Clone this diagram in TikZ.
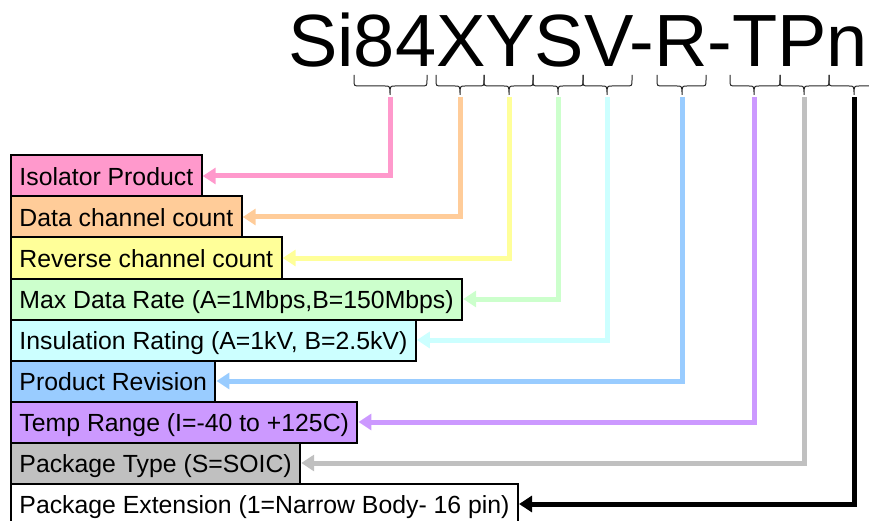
\documentclass[tikz,border=0pt]{standalone}
\usepackage{fontspec}
\setmainfont{Liberation Sans}
\usetikzlibrary{arrows.meta}
\definecolor{pinkc}{HTML}{FF99CC}
\definecolor{orangec}{HTML}{FFCC99}
\definecolor{yellowc}{HTML}{FFFF99}
\definecolor{greenc}{HTML}{CCFFCC}
\definecolor{cyanc}{HTML}{CCFFFF}
\definecolor{bluec}{HTML}{99CCFF}
\definecolor{purplec}{HTML}{CC99FF}
\definecolor{grayc}{HTML}{C0C0C0}
\newcommand\pnbrace[3]{\draw[brc] (#1,75) -- (#1,80) .. controls (#1,86) .. (#1+6,86) -- (#2-5,86) .. controls (#2,86) .. (#2,95) .. controls (#2,86) .. (#2+5,86) -- (#3-6,86) .. controls (#3,86) .. (#3,80) -- (#3,75);}
\begin{document}
\begin{tikzpicture}[x=1pt,y=-1pt,
  lab/.style={draw=black,line width=2pt,anchor=west,font=\fontsize{24.8}{28}\selectfont,
    inner xsep=8.5pt,inner ysep=10pt,text height=20pt,text depth=1pt,minimum height=41pt},
  conn/.style={line width=5pt,-{Triangle[length=13pt,width=16pt]}},
  brc/.style={line width=1pt,black!85}]
\useasboundingbox (0,0) rectangle (869,521);
\node[anchor=base west,inner sep=0pt,font=\fontsize{74}{80}\selectfont] (pn) at (288,67) {Si84XYSV-R-TPn};
% braces
\pnbrace{354}{390}{427}
\pnbrace{436}{460}{484}
\pnbrace{484}{509}{533}
\pnbrace{533}{558}{583}
\pnbrace{583}{607}{632}
\pnbrace{657}{682}{706}
\pnbrace{730}{754}{780}
\pnbrace{780}{804}{829}
\pnbrace{829}{854}{879}
% boxes
\node[lab,fill=pinkc]   (b1) at (10,176) {Isolator Product};
\node[lab,fill=orangec] (b2) at (10,217) {Data channel count};
\node[lab,fill=yellowc] (b3) at (10,258) {Reverse channel count};
\node[lab,fill=greenc]  (b4) at (10,299) {Max Data Rate (A=1Mbps,B=150Mbps)};
\node[lab,fill=cyanc]   (b5) at (10,340) {Insulation Rating (A=1kV, B=2.5kV)};
\node[lab,fill=bluec]   (b6) at (10,381) {Product Revision};
\node[lab,fill=purplec] (b7) at (10,422) {Temp Range (I=-40 to +125C)};
\node[lab,fill=grayc]   (b8) at (10,463) {Package Type (S=SOIC)};
\node[lab,fill=white]   (b9) at (10,504) {Package Extension (1=Narrow Body- 16 pin)};
% tips
\coordinate (t1) at (390,97);
\coordinate (t2) at (460,97);
\coordinate (t3) at (509,97);
\coordinate (t4) at (558,97);
\coordinate (t5) at (607,97);
\coordinate (t6) at (682,97);
\coordinate (t7) at (754,97);
\coordinate (t8) at (804,97);
\coordinate (t9) at (854,97);
% connectors
\draw[conn,pinkc]   (t1) |- (b1.east);
\draw[conn,orangec] (t2) |- (b2.east);
\draw[conn,yellowc] (t3) |- (b3.east);
\draw[conn,greenc]  (t4) |- (b4.east);
\draw[conn,cyanc]   (t5) |- (b5.east);
\draw[conn,bluec]   (t6) |- (b6.east);
\draw[conn,purplec] (t7) |- (b7.east);
\draw[conn,grayc]   (t8) |- (b8.east);
\draw[conn,black]   (t9) |- (b9.east);
\end{tikzpicture}
\end{document}
